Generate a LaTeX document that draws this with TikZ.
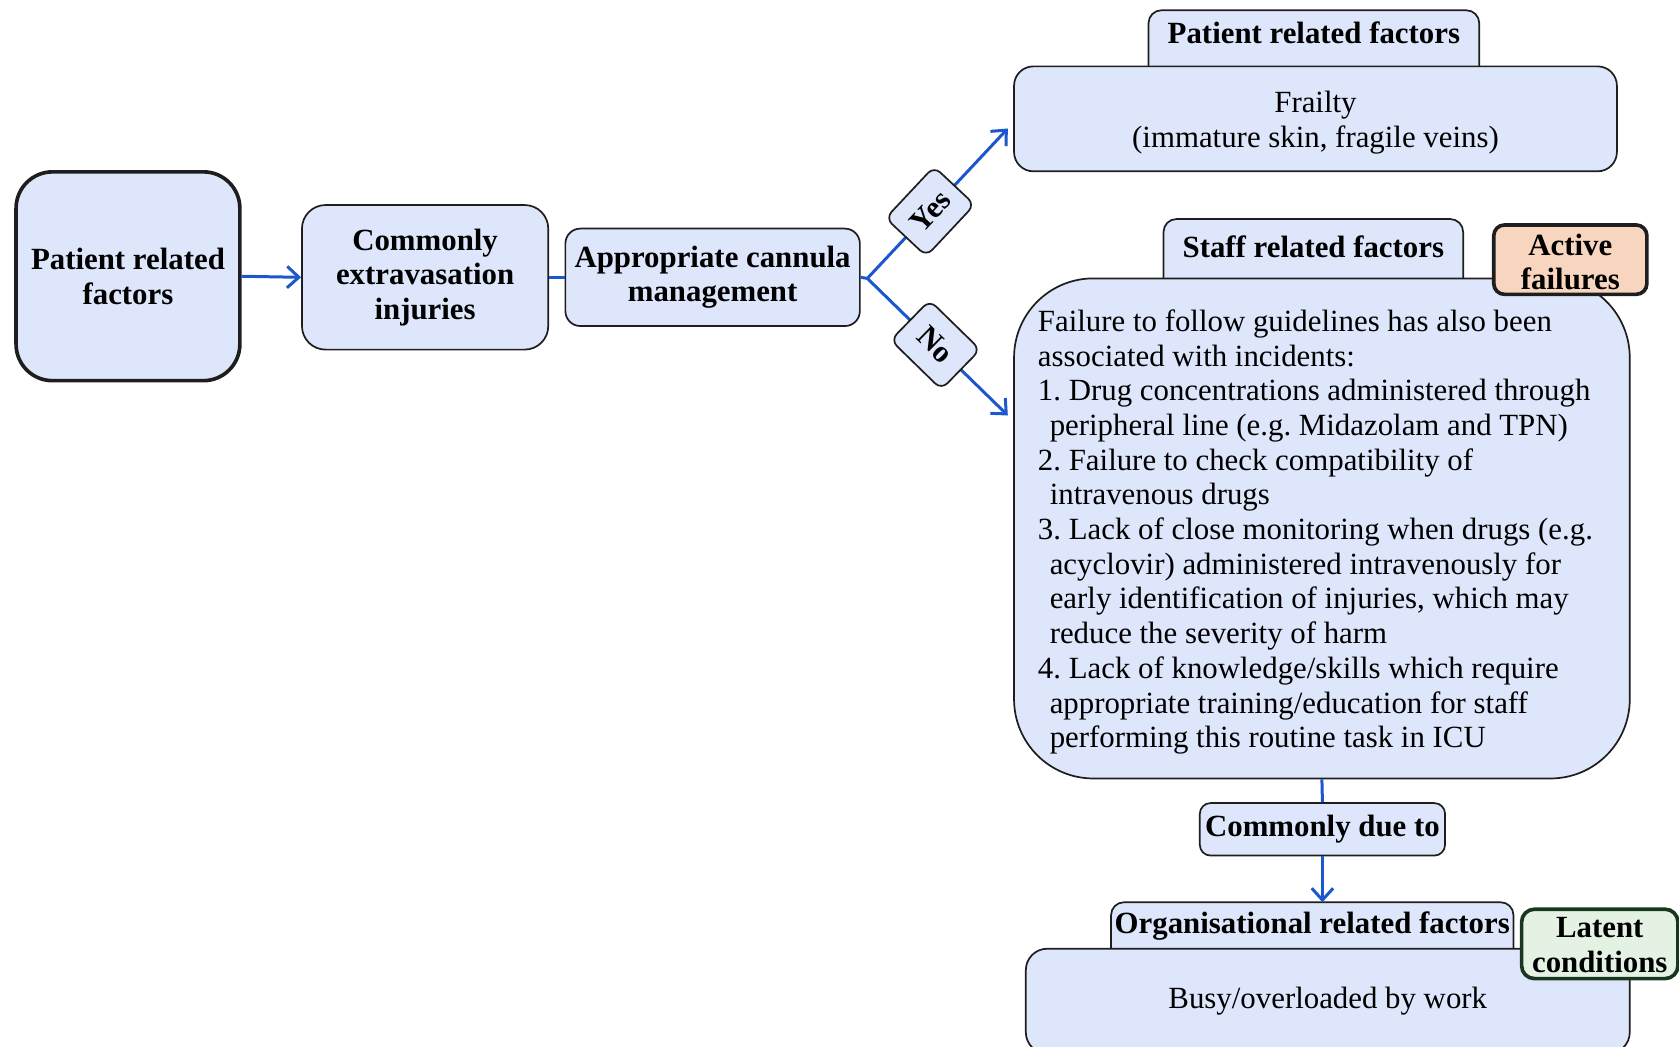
\documentclass[tikz,border=0pt]{standalone}
\usepackage{fontspec}
\setmainfont{Liberation Serif}
\usetikzlibrary{arrows.meta}

\definecolor{boxfill}{RGB}{221,230,250}
\definecolor{edge}{RGB}{30,30,30}
\definecolor{flow}{RGB}{28,87,205}
\definecolor{activefill}{RGB}{248,213,190}
\definecolor{latentfill}{RGB}{228,242,228}
\definecolor{latentedge}{RGB}{25,55,30}

\newcommand\diagfont{\fontsize{14.4pt}{16.2pt}\selectfont\frenchspacing}
% centred lines, lowered by #1 without changing the box's reported size
\newcommand\shiftdown[2]{\raisebox{-#1}[\height][\depth]{\begin{tabular}{@{}c@{}}#2\end{tabular}}}

\tikzset{
  box/.style={draw=edge, fill=boxfill, line width=0.8pt, align=center,
              inner sep=0pt, font=\diagfont},
  headbox/.style={box, font=\diagfont\bfseries},
  heavy/.style={line width=1.7pt},
  tabframe/.style={inner sep=0pt},
  tablabel/.style={inner sep=0pt, font=\diagfont\bfseries},
  tabshape/.style={draw=edge, fill=boxfill, line width=0.8pt, rounded corners=6pt},
  decision/.style={headbox, rounded corners=4pt, minimum width=33pt, minimum height=26pt},
  conn/.style={draw=flow, line width=1.4pt},
  arr/.style={conn, -{Straight Barb[length=5.5pt,width=10pt]}},
}

\begin{document}
\begin{tikzpicture}[x=0.5pt, y=-0.5pt]
\useasboundingbox (0,0) rectangle (1568,977);

% main chain on the left
\node[headbox, heavy, rounded corners=17pt, minimum width=104.5pt, minimum height=97.5pt]
  (ptl) at (119.5,258) {Patient related\\factors};
\node[headbox, rounded corners=11pt, minimum width=115pt, minimum height=67.5pt]
  (inj) at (397,259) {Commonly\\extravasation\\injuries};
\node[headbox, rounded corners=7pt, minimum width=137.5pt, minimum height=45.5pt]
  (mgmt) at (665.5,259) {Appropriate cannula\\management};
\coordinate (br) at (810,260);

% patient related factors group
\node[tabframe, minimum width=154pt, minimum height=26pt] (ptab) at (1227,36) {};
\filldraw[tabshape] (ptab.south west) -- (ptab.north west) -- (ptab.north east) -- (ptab.south east);
\node[tablabel] (ptabtext) at (1227,31) {Patient related factors};
\node[box, rounded corners=9pt, minimum width=281.5pt, minimum height=49pt]
  (frail) at (1228.5,111) {\shiftdown{2pt}{Frailty\\(immature skin, fragile veins)}};

% staff related factors group
\node[tabframe, minimum width=139.5pt, minimum height=27.5pt] (stab) at (1226.5,232.5) {};
\filldraw[tabshape] (stab.south west) -- (stab.north west) -- (stab.north east) -- (stab.south east);
\node[tablabel] (stabtext) at (1226.5,230.5) {Staff related factors};
\node[box, rounded corners=37pt, align=left, minimum width=287.5pt,
      minimum height=233.5pt] (staff) at (1234.5,493.5)
  {\rule{0pt}{13.5pt}Failure to follow guidelines has also been\\
   associated with incidents:\\
   1. Drug concentrations administered through\rule{6pt}{0pt}\\
   \hspace*{5.5pt}peripheral line (e.g. Midazolam and TPN)\\
   2. Failure to check compatibility of\\
   \hspace*{5.5pt}intravenous drugs\\
   3. Lack of close monitoring when drugs (e.g.\rule{6pt}{0pt}\\
   \hspace*{5.5pt}acyclovir) administered intravenously for\\
   \hspace*{5.5pt}early identification of injuries, which may\\
   \hspace*{5.5pt}reduce the severity of harm\\
   4. Lack of knowledge/skills which require\\
   \hspace*{5.5pt}appropriate training/education for staff\\
   \hspace*{5.5pt}performing this routine task in ICU};
\node[headbox, heavy, fill=activefill, rounded corners=5pt, minimum width=71.5pt, minimum height=30.5pt]
  (active) at (1466.5,242.5) {\shiftdown{2.75pt}{Active\\failures}};

% organisational factors group
\node[headbox, rounded corners=5pt, minimum width=114.5pt, minimum height=24.5pt]
  (due) at (1235,774.5) {Commonly due to};
\node[tabframe, minimum width=187.5pt, minimum height=21.5pt] (otab) at (1225.5,864.5) {};
\filldraw[tabshape] (otab.south west) -- (otab.north west) -- (otab.north east) -- (otab.south east);
\node[tablabel] (otabtext) at (otab.center) {Organisational related factors};
\node[box, rounded corners=10pt, minimum width=282pt, minimum height=49pt]
  (org) at (1240,935) {Busy/overloaded by work};
\node[headbox, heavy, draw=latentedge, fill=latentfill, rounded corners=6pt,
      minimum width=73pt, minimum height=31.5pt]
  (latent) at (1494,881.5) {\shiftdown{2pt}{Latent\\conditions}};

% connectors
\draw[arr] (ptl.east) -- (inj.west);
\draw[conn] (inj.east) -- (mgmt.west);
\draw[conn] (mgmt.east) -- (br);
\draw[arr] (br) -- ([xshift=-2.5pt,yshift=-4.5pt]frail.west)
  node[decision, pos=0.447, sloped] (yes) {Yes};
\draw[arr] (br) -- ([xshift=-2.5pt,yshift=52.75pt]staff.west)
  node[decision, pos=0.485, sloped] (no) {No};
\draw[conn] (staff.south) -- (due.north);
\draw[arr] (due.south) -- (due.south |- otab.north);
\end{tikzpicture}
\end{document}
